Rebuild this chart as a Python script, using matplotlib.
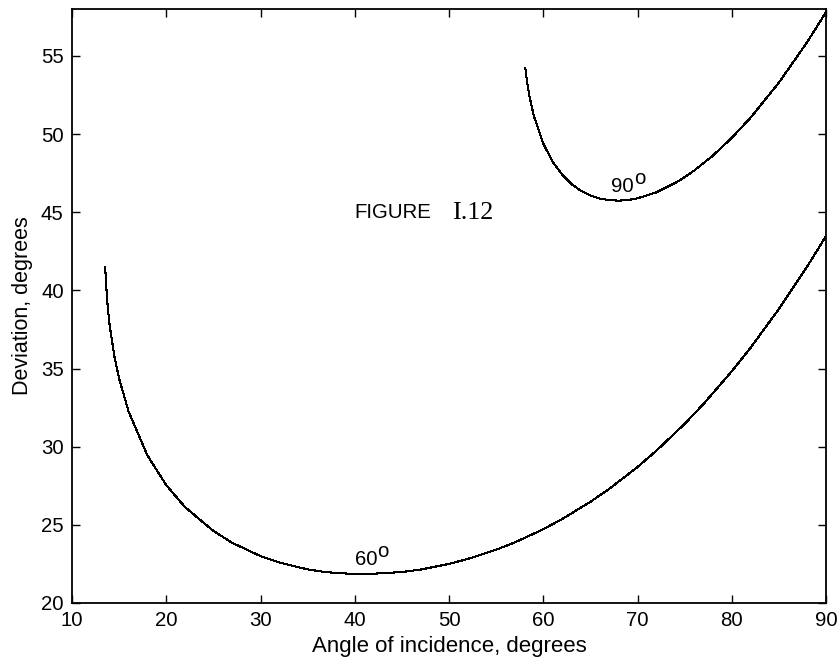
import matplotlib
matplotlib.use("Agg")
import matplotlib.pyplot as plt

# Prism with 60 degree apex angle: angle of incidence vs deviation
incidence_60 = [13.52, 13.55, 13.6, 13.8, 14.0, 14.5, 15, 16, 18, 20, 22, 25, 27, 30,
                32, 35, 37, 40, 41, 45, 47, 50, 52, 55, 57, 60, 62, 65, 67, 70,
                72, 75, 77, 80, 82, 85, 88, 90]
deviation_60 = [41.5, 41.17, 40.56, 38.85, 37.74, 35.76, 34.35, 32.26, 29.44, 27.54, 26.13,
                24.61, 23.85, 23.0, 22.59, 22.15, 21.97, 21.85, 21.84, 21.98, 22.14, 22.50,
                22.82, 23.41, 23.88, 24.72, 25.37, 26.47, 27.30, 28.70, 29.74, 31.46, 32.73,
                34.82, 36.33, 38.81, 41.52, 43.47]

# Prism with 90 degree apex angle
incidence_90 = [58.1, 58.2, 58.5, 59, 60, 61, 62, 63, 64, 65, 66, 67, 68, 69, 70,
                72, 74, 75, 76, 78, 80, 82, 85, 88, 90]
deviation_90 = [54.21, 53.69, 52.52, 51.16, 49.39, 48.23, 47.41, 46.80, 46.37, 46.07, 45.87,
                45.77, 45.74, 45.78, 45.89, 46.27, 46.87, 47.24, 47.66, 48.62, 49.76, 51.05,
                53.29, 55.88, 57.80]

x_ticks = [10, 20, 30, 40, 50, 60, 70, 80, 90]
y_ticks = [20, 25, 30, 35, 40, 45, 50, 55]

plt.rcParams['font.family'] = ['Liberation Sans', 'DejaVu Sans']

W, H = 840, 667
fig = plt.figure(figsize=(W / 100, H / 100), dpi=100)
ax = fig.add_axes([72 / W, 1 - 603 / H, (826 - 72) / W, (603 - 9) / H])

ax.plot(incidence_60, deviation_60, color='black', lw=0.75, antialiased=False)
ax.plot(incidence_90, deviation_90, color='black', lw=0.75, antialiased=False)

ax.set_xlim(10, 90)
ax.set_ylim(20, 58)
ax.set_xticks(x_ticks)
ax.set_yticks(y_ticks)
ax.tick_params(direction='in', top=True, right=True, length=5.8, width=1.0,
               labelsize=14.7, pad=6, colors='black')
for sp in ax.spines.values():
    sp.set_linewidth(1.3)
    sp.set_color('black')

ax.set_xlabel('Angle of incidence, degrees', fontsize=16)
ax.set_ylabel('Deviation, degrees', fontsize=15.5, labelpad=6)

ax.text(40.0, 44.6, 'FIGURE', fontsize=14.7, va='baseline')
ax.text(50.3, 44.55, 'I.12', fontsize=18.7, family='Liberation Serif', va='baseline')

# curve labels with degree marks
for label, (lx, ly) in [('60', (40.0, 22.4)), ('90', (67.2, 46.3))]:
    ax.text(lx, ly, label, fontsize=14.7, va='baseline')
    ax.annotate('o', xy=(lx, ly), xytext=(16.4, 6.0), textcoords='offset points',
                fontsize=14.7, va='baseline')

fig.savefig('out.png', dpi=100)
